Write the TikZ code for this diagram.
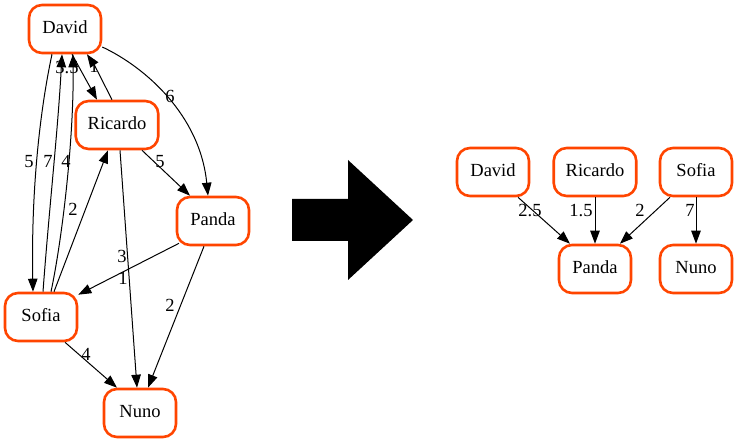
\documentclass[tikz,border=0pt]{standalone}
\usepackage{fontspec}
\setmainfont{Liberation Serif}[Scale=1.0]
\usetikzlibrary{arrows.meta}
\definecolor{gvorange}{HTML}{FF4500}
\begin{document}
\begin{tikzpicture}[x=1pt,y=-1pt,
  gnode/.style={draw=gvorange, line width=2.6pt, rounded corners=13pt, fill=white,
    minimum width=72pt, minimum height=48pt, inner xsep=12pt, inner ysep=0pt,
    text height=13pt, text depth=4pt, font=\rmfamily\fontsize{18.5}{20}\selectfont},
  edge/.style={-{Triangle[length=13pt,width=9.5pt]}, line width=1pt, black},
  elabel/.style={font=\rmfamily\fontsize{18.5}{20}\selectfont, inner sep=0pt, text height=13pt, text depth=4pt}
]
\useasboundingbox (0,0) rectangle (737,443);

% ---------- left graph nodes ----------
\node[gnode] (lDavid)   at (65,29)   {David};
\node[gnode] (lRicardo) at (117,125) {Ricardo};
\node[gnode] (lPanda)   at (213,221) {Panda};
\node[gnode] (lSofia)   at (41,317)  {Sofia};
\node[gnode] (lNuno)    at (140,413) {Nuno};

% ---------- left graph labels ----------
\node[elabel] (la1)  at (29,163)  {5};
\node[elabel] (la2)  at (48,163)  {7};
\node[elabel] (la3)  at (66,163)  {4};
\node[elabel] (la4)  at (73,211)  {2};
\node[elabel] (la5)  at (67,69)   {3.5};
\node[elabel] (la6)  at (94,68)   {1};
\node[elabel] (la7)  at (170,98)  {6};
\node[elabel] (la8)  at (160,163) {5};
\node[elabel] (la9)  at (123,280) {1};
\node[elabel] (la10) at (122,258) {3};
\node[elabel] (la11) at (170,307) {2};
\node[elabel] (la12) at (86,356)  {4};

% ---------- left graph edges ----------
\draw[edge] ([xshift=-13pt]lDavid.south) .. controls (40,110) and (31,190) .. ([xshift=-8pt]lSofia.north);
\draw[edge] ([xshift=2pt]lSofia.north) .. controls (49,210) and (58,130) .. ([xshift=-3pt]lDavid.south);
\draw[edge] ([xshift=10pt]lSofia.north) .. controls (62,240) and (74,140) .. ([xshift=8pt]lDavid.south);
\draw[edge] ([xshift=13pt]lSofia.north) -- ([xshift=-9pt]lRicardo.south);
\draw[edge] ([xshift=7pt]lDavid.south) -- ([xshift=-20pt]lRicardo.north);
\draw[edge] ([xshift=-5pt]lRicardo.north) .. controls (104,84) and (95,66) .. ([xshift=22pt]lDavid.south);
\draw[edge] ([yshift=-18pt]lDavid.east) .. controls (145,67) and (200,115) .. ([xshift=-5pt]lPanda.north);
\draw[edge] ([xshift=25pt]lRicardo.south) -- ([xshift=-23pt]lPanda.north);
\draw[edge] ([xshift=3pt]lRicardo.south) -- ([xshift=-3pt]lNuno.north);
\draw[edge] ([xshift=-34pt,yshift=3pt]lPanda.south) -- ([yshift=-3pt]lSofia.north east);
\draw[edge] ([xshift=-9pt]lPanda.south) -- ([xshift=8pt]lNuno.north);
\draw[edge] ([xshift=24pt]lSofia.south) -- ([xshift=-23pt]lNuno.north);

% ---------- big arrow ----------
\fill[black] (292,199) -- (348,199) -- (348,160) -- (413,220) -- (348,280) -- (348,241) -- (292,241) -- cycle;

% ---------- right graph nodes ----------
\node[gnode] (rDavid)   at (493,172) {David};
\node[gnode] (rRicardo) at (595,172) {Ricardo};
\node[gnode] (rSofia)   at (696,172) {Sofia};
\node[gnode] (rPanda)   at (595,269) {Panda};
\node[gnode] (rNuno)    at (696,269) {Nuno};

% ---------- right graph labels ----------
\node[elabel] (rb1) at (530,212) {2.5};
\node[elabel] (rb2) at (581,212) {1.5};
\node[elabel] (rb3) at (640,212) {2};
\node[elabel] (rb4) at (690,212) {7};

% ---------- right graph edges ----------
\draw[edge] ([xshift=25pt]rDavid.south) -- ([xshift=-25pt]rPanda.north);
\draw[edge] (rRicardo.south) -- (rPanda.north);
\draw[edge] ([xshift=-26pt]rSofia.south) -- ([xshift=25pt]rPanda.north);
\draw[edge] (rSofia.south) -- (rNuno.north);
\end{tikzpicture}
\end{document}
